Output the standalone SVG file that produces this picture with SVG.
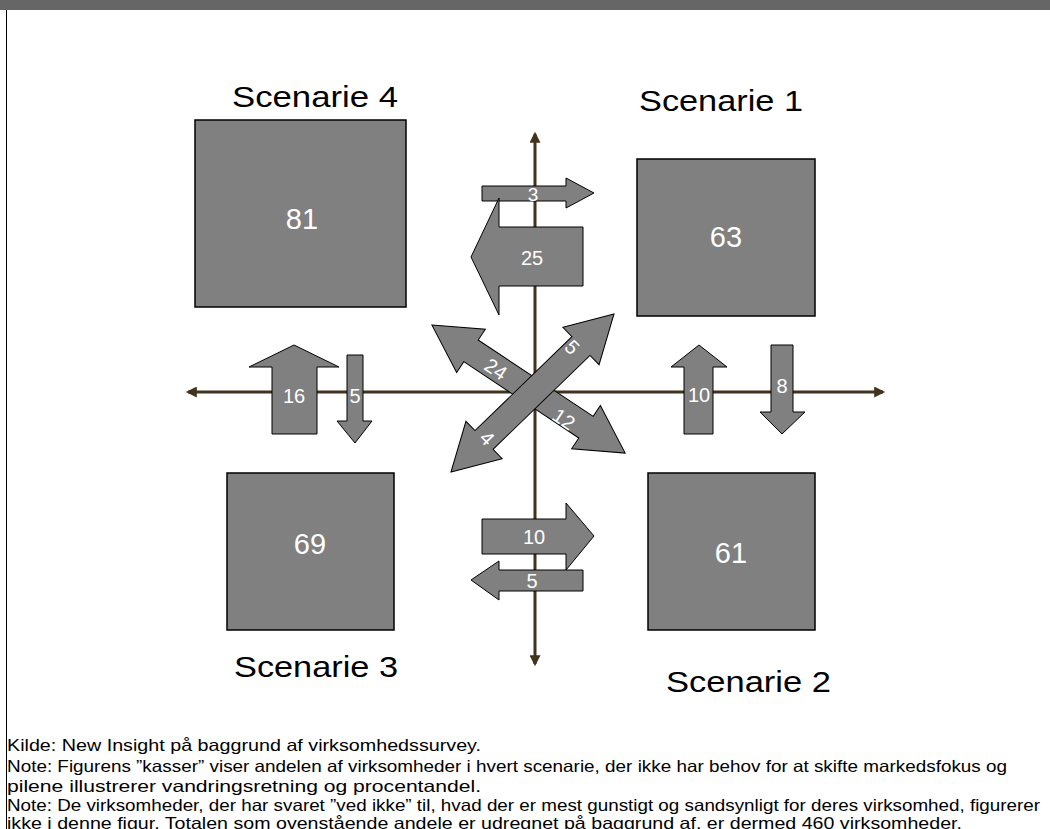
<svg xmlns="http://www.w3.org/2000/svg" width="1050" height="829" viewBox="0 0 1050 829">
<defs>
<style>
.box{fill:#808080;stroke:#000;stroke-width:1.5}
.arr{fill:#808080;stroke:#000;stroke-width:1}
.num{font-family:"Liberation Sans",Arial,sans-serif;fill:#fff;text-anchor:middle}
.big{font-size:29px}
.sm{font-size:20px}
.ttl{font-family:"Liberation Sans",Arial,sans-serif;font-size:29px;fill:#000}
.note{font-family:"Liberation Sans",Arial,sans-serif;font-size:16.5px;fill:#000}
.axis{stroke:#42331d;stroke-width:3;fill:none}
</style>
<marker id="ah" viewBox="0 0 10 10" refX="8" refY="5" markerUnits="userSpaceOnUse" markerWidth="12" markerHeight="11" orient="auto-start-reverse">
<path d="M0,0 L10,5 L0,10 z" fill="#42331d"/>
</marker>
</defs>
<rect x="0" y="0" width="1050" height="10" fill="#666666"/>
<line x1="6.5" y1="10" x2="6.5" y2="829" stroke="#000" stroke-width="1"/>

<g id="connectors">
<line class="axis" x1="535" y1="664" x2="535" y2="134" marker-start="url(#ah)" marker-end="url(#ah)"/>
<line class="axis" x1="188" y1="392" x2="883" y2="392" marker-start="url(#ah)" marker-end="url(#ah)"/>
</g>

<g id="scenarie4">
<text class="ttl" x="232" y="107" textLength="166" lengthAdjust="spacingAndGlyphs">Scenarie 4</text>
<rect class="box" x="195" y="120" width="211" height="187"/>
<text class="num big" x="302" y="229">81</text>
</g>
<g id="scenarie1">
<text class="ttl" x="639" y="111" textLength="164" lengthAdjust="spacingAndGlyphs">Scenarie 1</text>
<rect class="box" x="637" y="159" width="178" height="157"/>
<text class="num big" x="726" y="247">63</text>
</g>
<g id="scenarie3">
<rect class="box" x="227" y="473" width="167" height="157"/>
<text class="num big" x="310" y="554">69</text>
<text class="ttl" x="234" y="677" textLength="164" lengthAdjust="spacingAndGlyphs">Scenarie 3</text>
</g>
<g id="scenarie2">
<rect class="box" x="648" y="473" width="167" height="157"/>
<text class="num big" x="731" y="563">61</text>
<text class="ttl" x="666" y="692" textLength="165" lengthAdjust="spacingAndGlyphs">Scenarie 2</text>
</g>

<g id="arrow-3">
<polygon class="arr" points="482,186 566,186 566,178 594,193 566,208 566,201 482,201"/>
<text class="num" style="font-size:19px" x="533" y="201">3</text>
</g>
<g id="arrow-25">
<polygon class="arr" points="583,227 583,286 499,286 499,315 471,257 499,198 499,227"/>
<text class="num sm" x="532" y="265">25</text>
</g>
<g id="arrow-16">
<polygon class="arr" points="294,345 339,367 317,367 317,434 272,434 272,367 249,367"/>
<text class="num sm" x="294" y="403">16</text>
</g>
<g id="arrow-5-left">
<polygon class="arr" points="347,355 363,355 363,421 372,421 355,443 337,421 347,421"/>
<text class="num sm" x="355" y="403">5</text>
</g>
<g id="arrow-10-right">
<polygon class="arr" points="699,345 727,367 713,367 713,434 684,434 684,367 671,367"/>
<text class="num sm" x="699" y="402">10</text>
</g>
<g id="arrow-8">
<polygon class="arr" points="771,345 793,345 793,412 805,412 782,434 760,412 771,412"/>
<text class="num sm" x="782" y="393">8</text>
</g>
<g id="arrow-10-bottom">
<polygon class="arr" points="482,519 566,519 566,503 594,536 566,570 566,554 482,554"/>
<text class="num sm" x="534" y="544">10</text>
</g>
<g id="arrow-5-bottom">
<polygon class="arr" points="583,570 583,591 499,591 499,600 471,580 499,561 499,570"/>
<text class="num sm" x="532" y="588">5</text>
</g>
<g id="arrow-24-12">
<polygon class="arr" transform="translate(528.5,389) rotate(33.55)" points="-116,0 -69,-26 -69,-13 69,-13 69,-26 116,0 69,26 69,13 -69,13 -69,26"/>
<text class="num sm" transform="translate(492,375) rotate(33.55)" x="0" y="0">24</text>
<text class="num sm" transform="translate(560,425) rotate(33.55)" x="0" y="0">12</text>
</g>
<g id="arrow-5-4">
<polygon class="arr" transform="translate(532.5,393) rotate(-44.1)" points="-113.5,0 -67.5,-26 -67.5,-13 67.5,-13 67.5,-26 113.5,0 67.5,26 67.5,13 -67.5,13 -67.5,26"/>
<text class="num sm" transform="translate(567,352) rotate(46)" x="0" y="0">5</text>
<text class="num sm" transform="translate(482,443) rotate(46)" x="0" y="0">4</text>
</g>

<g id="notes">
<text class="note" x="7" y="751" textLength="474" lengthAdjust="spacingAndGlyphs">Kilde: New Insight på baggrund af virksomhedssurvey.</text>
<text class="note" x="7" y="772" textLength="1000" lengthAdjust="spacingAndGlyphs">Note: Figurens ”kasser” viser andelen af virksomheder i hvert scenarie, der ikke har behov for at skifte markedsfokus og</text>
<text class="note" x="7" y="792" textLength="474" lengthAdjust="spacingAndGlyphs">pilene illustrerer vandringsretning og procentandel.</text>
<text class="note" x="7" y="811" textLength="1033" lengthAdjust="spacingAndGlyphs">Note: De virksomheder, der har svaret ”ved ikke” til, hvad der er mest gunstigt og sandsynligt for deres virksomhed, figurerer</text>
<text class="note" x="7" y="828.5" textLength="955" lengthAdjust="spacingAndGlyphs">ikke i denne figur. Totalen som ovenstående andele er udregnet på baggrund af, er dermed 460 virksomheder.</text>
</g>
</svg>
